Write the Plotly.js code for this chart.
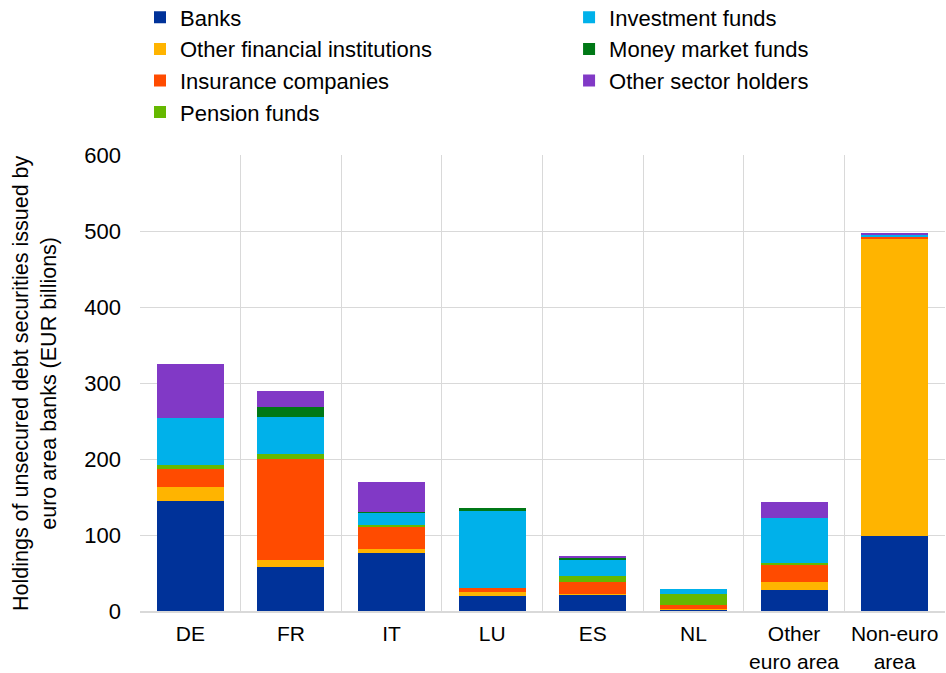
<!DOCTYPE html>
<html>
<head>
<meta charset="utf-8">
<script src="https://cdn.plot.ly/plotly-3.0.1.min.js"></script>
<style>html,body{margin:0;padding:0;background:#fff;}#chart{width:946px;height:673px;}</style>
</head>
<body>
<div id="chart"></div>
<script>
const categories = ["DE", "FR", "IT", "LU", "ES", "NL", "Other<br>euro area", "Non-euro<br>area"];
const banks      = [145, 58, 76, 20, 21, 1, 27, 99];
const otherFin   = [18, 9, 6, 5, 2, 2, 11, 390];
const insurance  = [24, 133, 28, 5, 15, 5, 23, 3];
const pension    = [5, 6, 3, 0, 8, 15, 2, 0.5];
const invFunds   = [62, 49, 16, 102, 21, 6, 59, 2];
const mmFunds    = [0, 13, 1, 3, 3, 0, 1, 0.5];
const otherSect  = [71, 21, 40, 1, 3, 0, 20, 2];
const yTitle = "Holdings of unsecured debt securities issued by<br>euro area banks (EUR billions)";

const series = [
  {name: "Banks", y: banks, color: "#003299", legend: "legend"},
  {name: "Other financial institutions", y: otherFin, color: "#FFB400", legend: "legend"},
  {name: "Insurance companies", y: insurance, color: "#FF4B00", legend: "legend"},
  {name: "Pension funds", y: pension, color: "#65B800", legend: "legend"},
  {name: "Investment funds", y: invFunds, color: "#00B1EA", legend: "legend2"},
  {name: "Money market funds", y: mmFunds, color: "#007816", legend: "legend2"},
  {name: "Other sector holders", y: otherSect, color: "#8139C6", legend: "legend2"}
];

const traces = series.map(s => ({
  type: "bar",
  name: s.name,
  x: categories,
  y: s.y,
  marker: {color: s.color},
  legend: s.legend
}));

const font = "Arial, 'Liberation Sans', sans-serif";
const legendBase = {
  orientation: "v", xanchor: "left", y: 1.3476, yanchor: "top",
  font: {family: font, size: 22, color: "#000"},
  traceorder: "normal", itemclick: false, itemdoubleclick: false,
  bgcolor: "rgba(0,0,0,0)"
};
const layout = {
  width: 946, height: 673,
  barmode: "stack",
  bargap: 0.335,
  margin: {l: 140, r: 1, t: 155, b: 62, autoexpand: false},
  paper_bgcolor: "#fff", plot_bgcolor: "#fff",
  font: {family: font, size: 22, color: "#000"},
  showlegend: true,
  legend: Object.assign({}, legendBase, {x: 0}),
  legend2: Object.assign({}, legendBase, {x: 0.533}),
  xaxis: {
    type: "category", tickson: "boundaries", showgrid: true, tickangle: 0,
    gridcolor: "#d9d9d9", gridwidth: 1, ticks: "", showline: true,
    linecolor: "#d9d9d9", linewidth: 2, mirror: false, ticklabelstandoff: 3,
    tickfont: {family: font, size: 21, color: "#000"}
  },
  yaxis: {
    range: [0, 600], dtick: 100, showgrid: true, gridcolor: "#d9d9d9", gridwidth: 1,
    zeroline: false, ticks: "", ticklabelstandoff: 18,
    tickfont: {family: font, size: 22, color: "#000"}
  },
  annotations: [{
    text: yTitle, xref: "paper", yref: "paper", x: -0.1304, y: 0.5,
    xanchor: "center", yanchor: "middle", textangle: -90, showarrow: false,
    font: {family: font, size: 21.5, color: "#000"}
  }]
};

Plotly.newPlot("chart", traces, layout, {displayModeBar: false, staticPlot: true});
</script>
</body>
</html>
